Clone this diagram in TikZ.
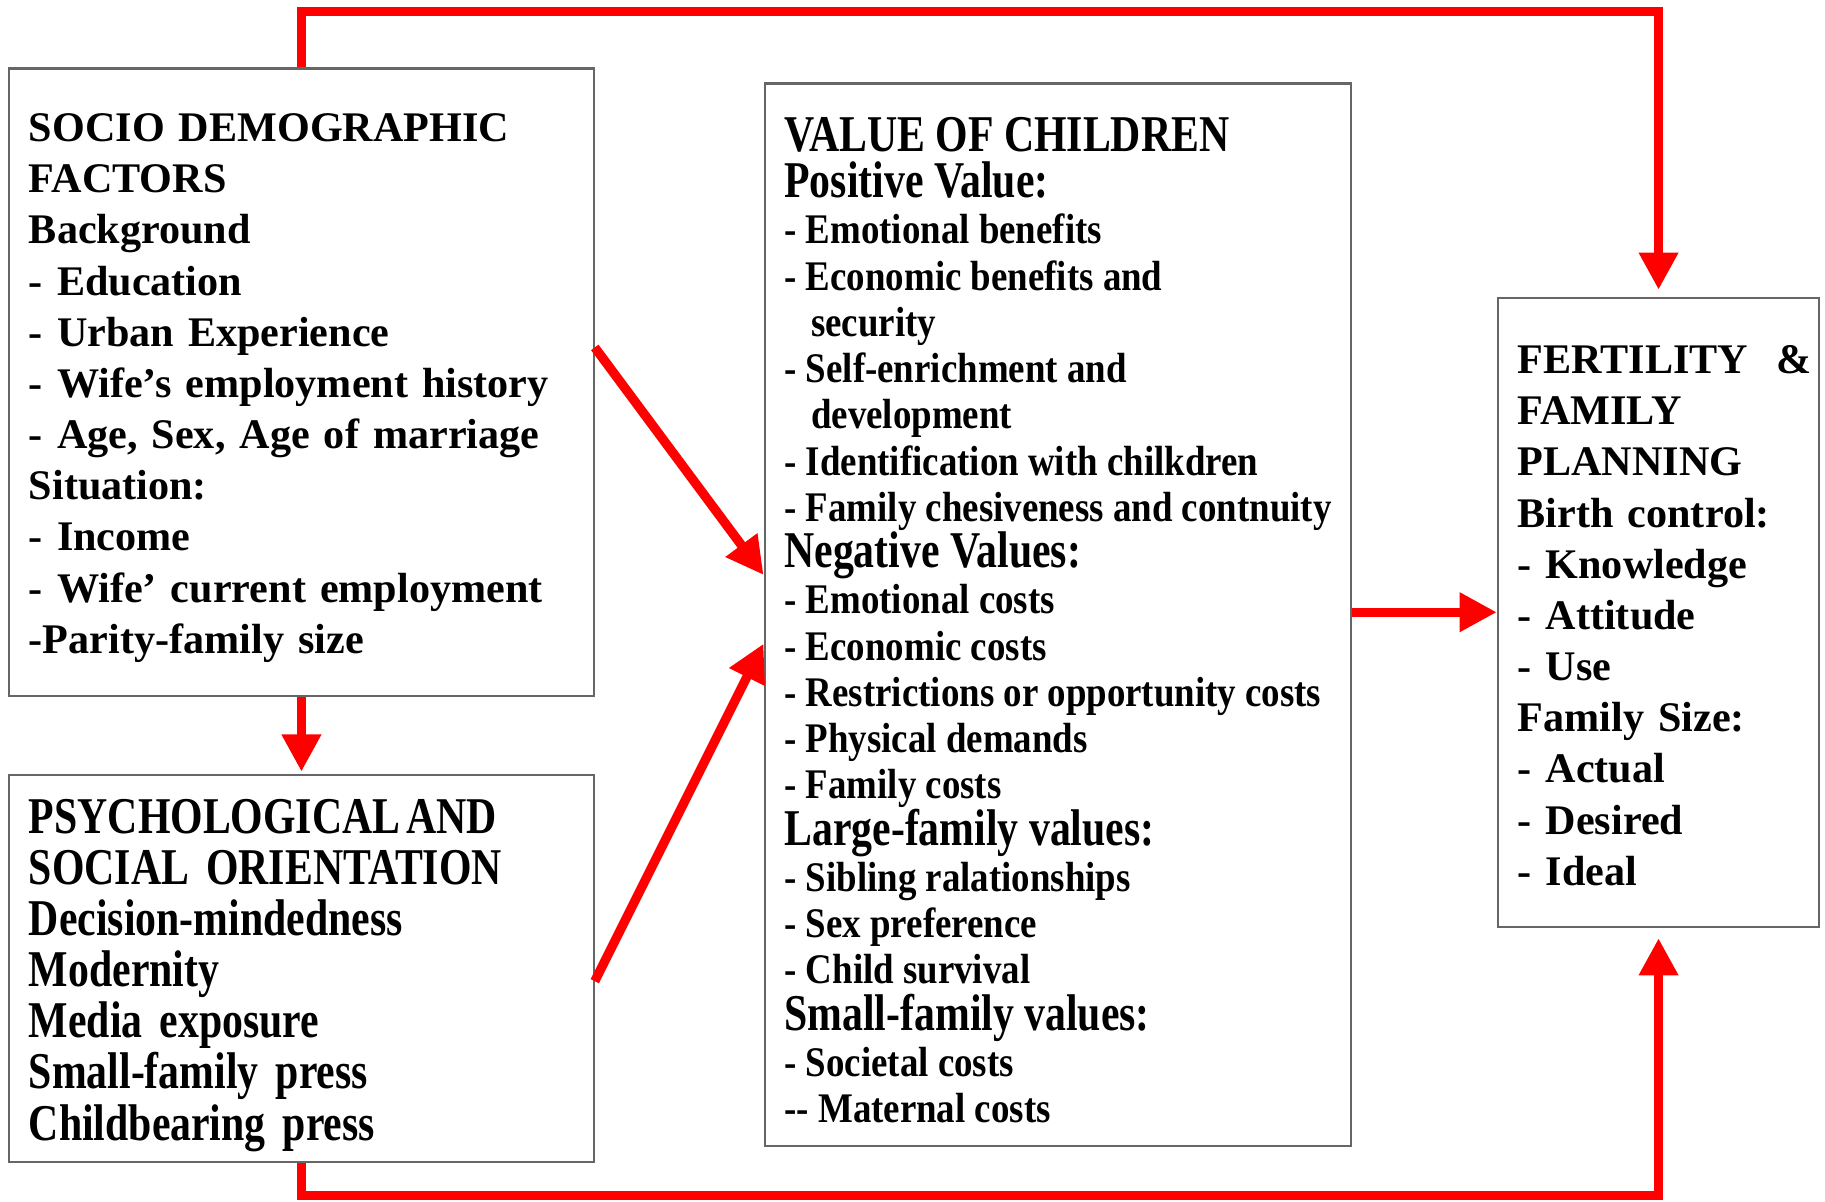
\documentclass[tikz,border=0pt]{standalone}
\usepackage{fontspec}
\setmainfont{Liberation Serif}
\newfontfamily\condfont[FakeStretch=0.875]{Liberation Serif}
\newfontfamily\tallfont[FakeStretch=0.81]{Liberation Serif}
\usetikzlibrary{arrows.meta}

\newcommand{\vochead}[1]{{\tallfont\fontsize{12.6}{11.3}\selectfont #1}}

\begin{document}
\begin{tikzpicture}[x=0.01cm, y=-0.01cm,
    box/.style={draw=black!60, line width=0.5pt, fill=white, align=left,
      inner xsep=0.17cm, inner ysep=0pt},
    flow/.style={draw=red, line width=0.08cm,
      -{Triangle[length=0.32cm, width=0.32cm]}}]
    \useasboundingbox (0,0) rectangle (1568,1032);

    % socio demographic box
    \node[box, minimum width=5.02cm, minimum height=5.39cm, text width=4.68cm,
      font=\bfseries\fontsize{10.3}{12.5}\selectfont] (socio) at (259,328.5)
      {\rule{0pt}{9.6pt}SOCIO DEMOGRAPHIC\\ FACTORS\\ Background\\ - Education\\ - Urban Experience\\
       - Wife’s employment history\\ - Age, Sex, Age of marriage\\ Situation:\\
       - Income\\ - Wife’ current employment\\ -Parity-family size};

    % psychological box
    \node[box, minimum width=5.02cm, minimum height=3.32cm, text width=4.68cm,
      font=\tallfont\bfseries\fontsize{12.6}{12.5}\selectfont] (psych) at (259,832)
      {\rule{0pt}{11.7pt}PSYCHOLOGICAL\hspace{0.05cm}AND\\ SOCIAL ORIENTATION\\ Decision-mindedness\\ Modernity\\
       Media exposure\\ Small-family press\\ Childbearing press};

    % value of children box (no text width, lines kept whole)
    \node[box, minimum width=5.02cm, minimum height=9.12cm,
      font=\condfont\bfseries\fontsize{10.3}{11.3}\selectfont] (value) at (909,528)
      {\rule{0pt}{11.1pt}\vochead{VALUE OF CHILDREN}\\ \vochead{Positive Value:}\\
       - Emotional benefits\\ - Economic benefits and\\ \hspace*{0.23cm}security\\
       - Self-enrichment and\\ \hspace*{0.23cm}development\\
       - Identification with chilkdren\\ - Family chesiveness and contnuity\\
       \vochead{Negative Values:}\\ - Emotional costs\\ - Economic costs\\
       - Restrictions or opportunity costs\\ - Physical demands\\ - Family costs\\
       \vochead{Large-family values:}\\ - Sibling ralationships\\ - Sex preference\\
       - Child survival\\ \vochead{Small-family values:}\\ - Societal costs\\
       -{}- Maternal costs};

    % fertility box
    \node[box, minimum width=2.76cm, minimum height=5.40cm, text width=2.42cm,
      font=\bfseries\fontsize{10.3}{12.5}\selectfont] (fert) at (1425,526)
      {\rule{0pt}{8.5pt}FERTILITY~~\&\\ FAMILY\\ PLANNING\\ Birth control:\\ - Knowledge\\
       - Attitude\\ - Use\\ Family Size:\\ - Actual\\ - Desired\\ - Ideal};

    % arrows between boxes
    \draw[flow, shorten >=0.02cm] (socio.south) -- (psych.north);
    \draw[flow] ([yshift=0.3cm]socio.east) -- ([yshift=0.34cm]value.west);
    \draw[flow] ([yshift=-0.11cm]psych.east) -- ([yshift=-0.25cm]value.west);
    \draw[flow] (value.east |- fert.west) -- (fert.west);

    % outer loops to fertility
    \coordinate (loopup) at (0,10);
    \coordinate (loopdown) at (0,1027);
    \draw[flow, shorten >=0.06cm] (socio.north) -- (socio.north |- loopup) -| (fert.north);
    \draw[flow, shorten >=0.09cm] (psych.south) -- (psych.south |- loopdown) -| (fert.south);
\end{tikzpicture}
\end{document}
